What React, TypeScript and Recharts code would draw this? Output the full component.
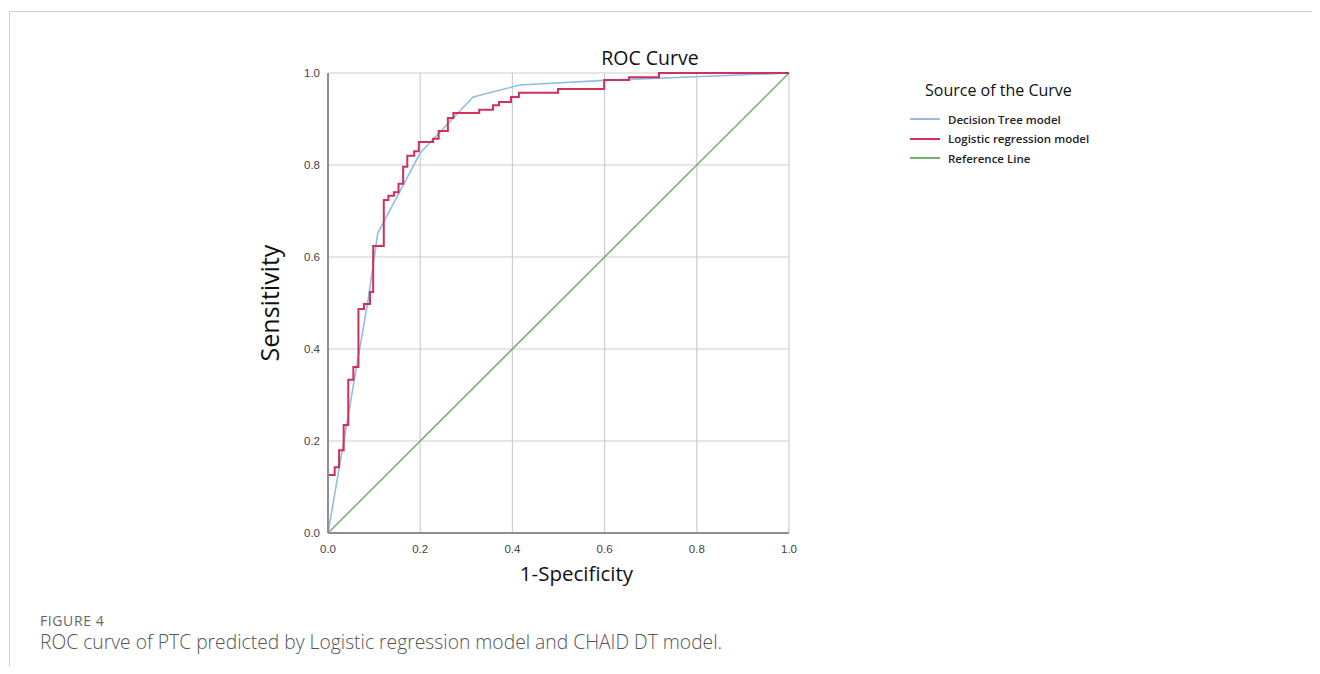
import React from "react";
import { LineChart, Line, XAxis, YAxis, CartesianGrid } from "recharts";

const axisTicks = [0, 0.2, 0.4, 0.6, 0.8, 1.0];

const decisionTreeFpr = [0, 0.087, 0.108, 0.2, 0.315, 0.416, 0.6, 1.0];
const decisionTreeTpr = [0, 0.507, 0.652, 0.826, 0.948, 0.974, 0.984, 1.0];

const logisticFpr = [
  0, 0, 0.0145, 0.024, 0.034, 0.044, 0.055, 0.066, 0.078, 0.091, 0.098, 0.121, 0.131,
  0.143, 0.153, 0.163, 0.172, 0.187, 0.197, 0.228, 0.24, 0.26, 0.272, 0.328, 0.358,
  0.371, 0.397, 0.414, 0.499, 0.599, 0.653, 0.718, 1.0,
];
const logisticTpr = [
  0, 0.126, 0.143, 0.18, 0.235, 0.333, 0.361, 0.487, 0.498, 0.524, 0.624, 0.724, 0.733,
  0.741, 0.759, 0.796, 0.82, 0.83, 0.85, 0.857, 0.874, 0.902, 0.913, 0.92, 0.93,
  0.937, 0.948, 0.957, 0.965, 0.985, 0.991, 1.0, 1.0,
];

const referenceFpr = [0, 1];
const referenceTpr = [0, 1];

const seriesNames = ["Decision Tree model", "Logistic regression model", "Reference Line"];
const seriesColors = ["#93bde6", "#d0305a", "#72b06c"];

const toPoints = (xs: number[], ys: number[]) => xs.map((x, i) => ({ x, y: ys[i] }));

const dtData = toPoints(decisionTreeFpr, decisionTreeTpr);
const lrData = toPoints(logisticFpr, logisticTpr);
const refData = toPoints(referenceFpr, referenceTpr);

export default function App() {
  const tickStyle = { fontFamily: "Liberation Sans, Arial, sans-serif", fontSize: 11.5, fill: "#444" };
  return (
    <div style={{ position: "relative", width: 1304, height: 658, fontFamily: "'Open Sans', sans-serif" }}>
      <div
        style={{
          position: "absolute",
          left: 1,
          top: 3,
          right: -20,
          bottom: -20,
          borderLeft: "1px solid #cfcfcf",
          borderTop: "1px solid #cfcfcf",
        }}
      />
      <div
        style={{
          position: "absolute",
          left: 542,
          top: 36,
          width: 200,
          textAlign: "center",
          fontSize: 19.5,
          fontWeight: 500,
          color: "#111",
        }}
      >
        ROC Curve
      </div>
      <div style={{ position: "absolute", left: 0, top: 0 }}>
        <LineChart width={1100} height={600} margin={{ top: 65, right: 319, bottom: 45, left: 280 }}>
          <CartesianGrid stroke="#cdcdcd" strokeWidth={1.2} />
          <XAxis
            type="number"
            dataKey="x"
            domain={[0, 1]}
            ticks={axisTicks}
            tickFormatter={(v: number) => v.toFixed(1)}
            tick={tickStyle}
            tickLine={false}
            axisLine={{ stroke: "#8f8f8f", strokeWidth: 2 }}
            height={30}
            tickMargin={6}
            allowDataOverflow
            label={{
              value: "1-Specificity",
              position: "insideBottom",
              offset: -18,
              dx: 18,
              style: { fontFamily: "'Open Sans', sans-serif", fontSize: 20.5, fontWeight: 500, fill: "#111" },
            }}
          />
          <YAxis
            type="number"
            dataKey="y"
            domain={[0, 1]}
            ticks={axisTicks}
            tickFormatter={(v: number) => v.toFixed(1)}
            tick={tickStyle}
            tickLine={false}
            axisLine={{ stroke: "#8f8f8f", strokeWidth: 2 }}
            width={40}
            tickMargin={2}
            label={{
              value: "Sensitivity",
              angle: -90,
              position: "insideLeft",
              offset: -18,
              style: { fontFamily: "'Open Sans', sans-serif", fontSize: 25, fontWeight: 500, fill: "#111", textAnchor: "middle" },
            }}
          />
          <Line
            data={refData}
            dataKey="y"
            type="linear"
            stroke={seriesColors[2]}
            strokeWidth={1.5}
            dot={false}
            isAnimationActive={false}
          />
          <Line
            data={dtData}
            dataKey="y"
            type="linear"
            stroke={seriesColors[0]}
            strokeWidth={1.6}
            dot={false}
            isAnimationActive={false}
          />
          <Line
            data={lrData}
            dataKey="y"
            type="stepAfter"
            stroke={seriesColors[1]}
            strokeWidth={2}
            dot={false}
            isAnimationActive={false}
          />
        </LineChart>
      </div>
      <div style={{ position: "absolute", left: 917, top: 71, fontSize: 16, fontWeight: 500, color: "#111" }}>
        Source of the Curve
      </div>
      {seriesNames.map((name, i) => (
        <div
          key={name}
          style={{ position: "absolute", left: 902, top: 102 + i * 19.5, height: 18, display: "flex", alignItems: "center" }}
        >
          <div style={{ width: 30, height: 2, background: seriesColors[i], marginRight: 8 }} />
          <span style={{ fontSize: 11.5, fontWeight: 600, color: "#222" }}>{name}</span>
        </div>
      ))}
      <div style={{ position: "absolute", left: 32, top: 603, fontSize: 14, color: "#666", letterSpacing: 0.6 }}>
        FIGURE 4
      </div>
      <div style={{ position: "absolute", left: 32, top: 620, fontSize: 19.3, color: "#555", fontWeight: 300 }}>
        ROC curve of PTC predicted by Logistic regression model and CHAID DT model.
      </div>
    </div>
  );
}
